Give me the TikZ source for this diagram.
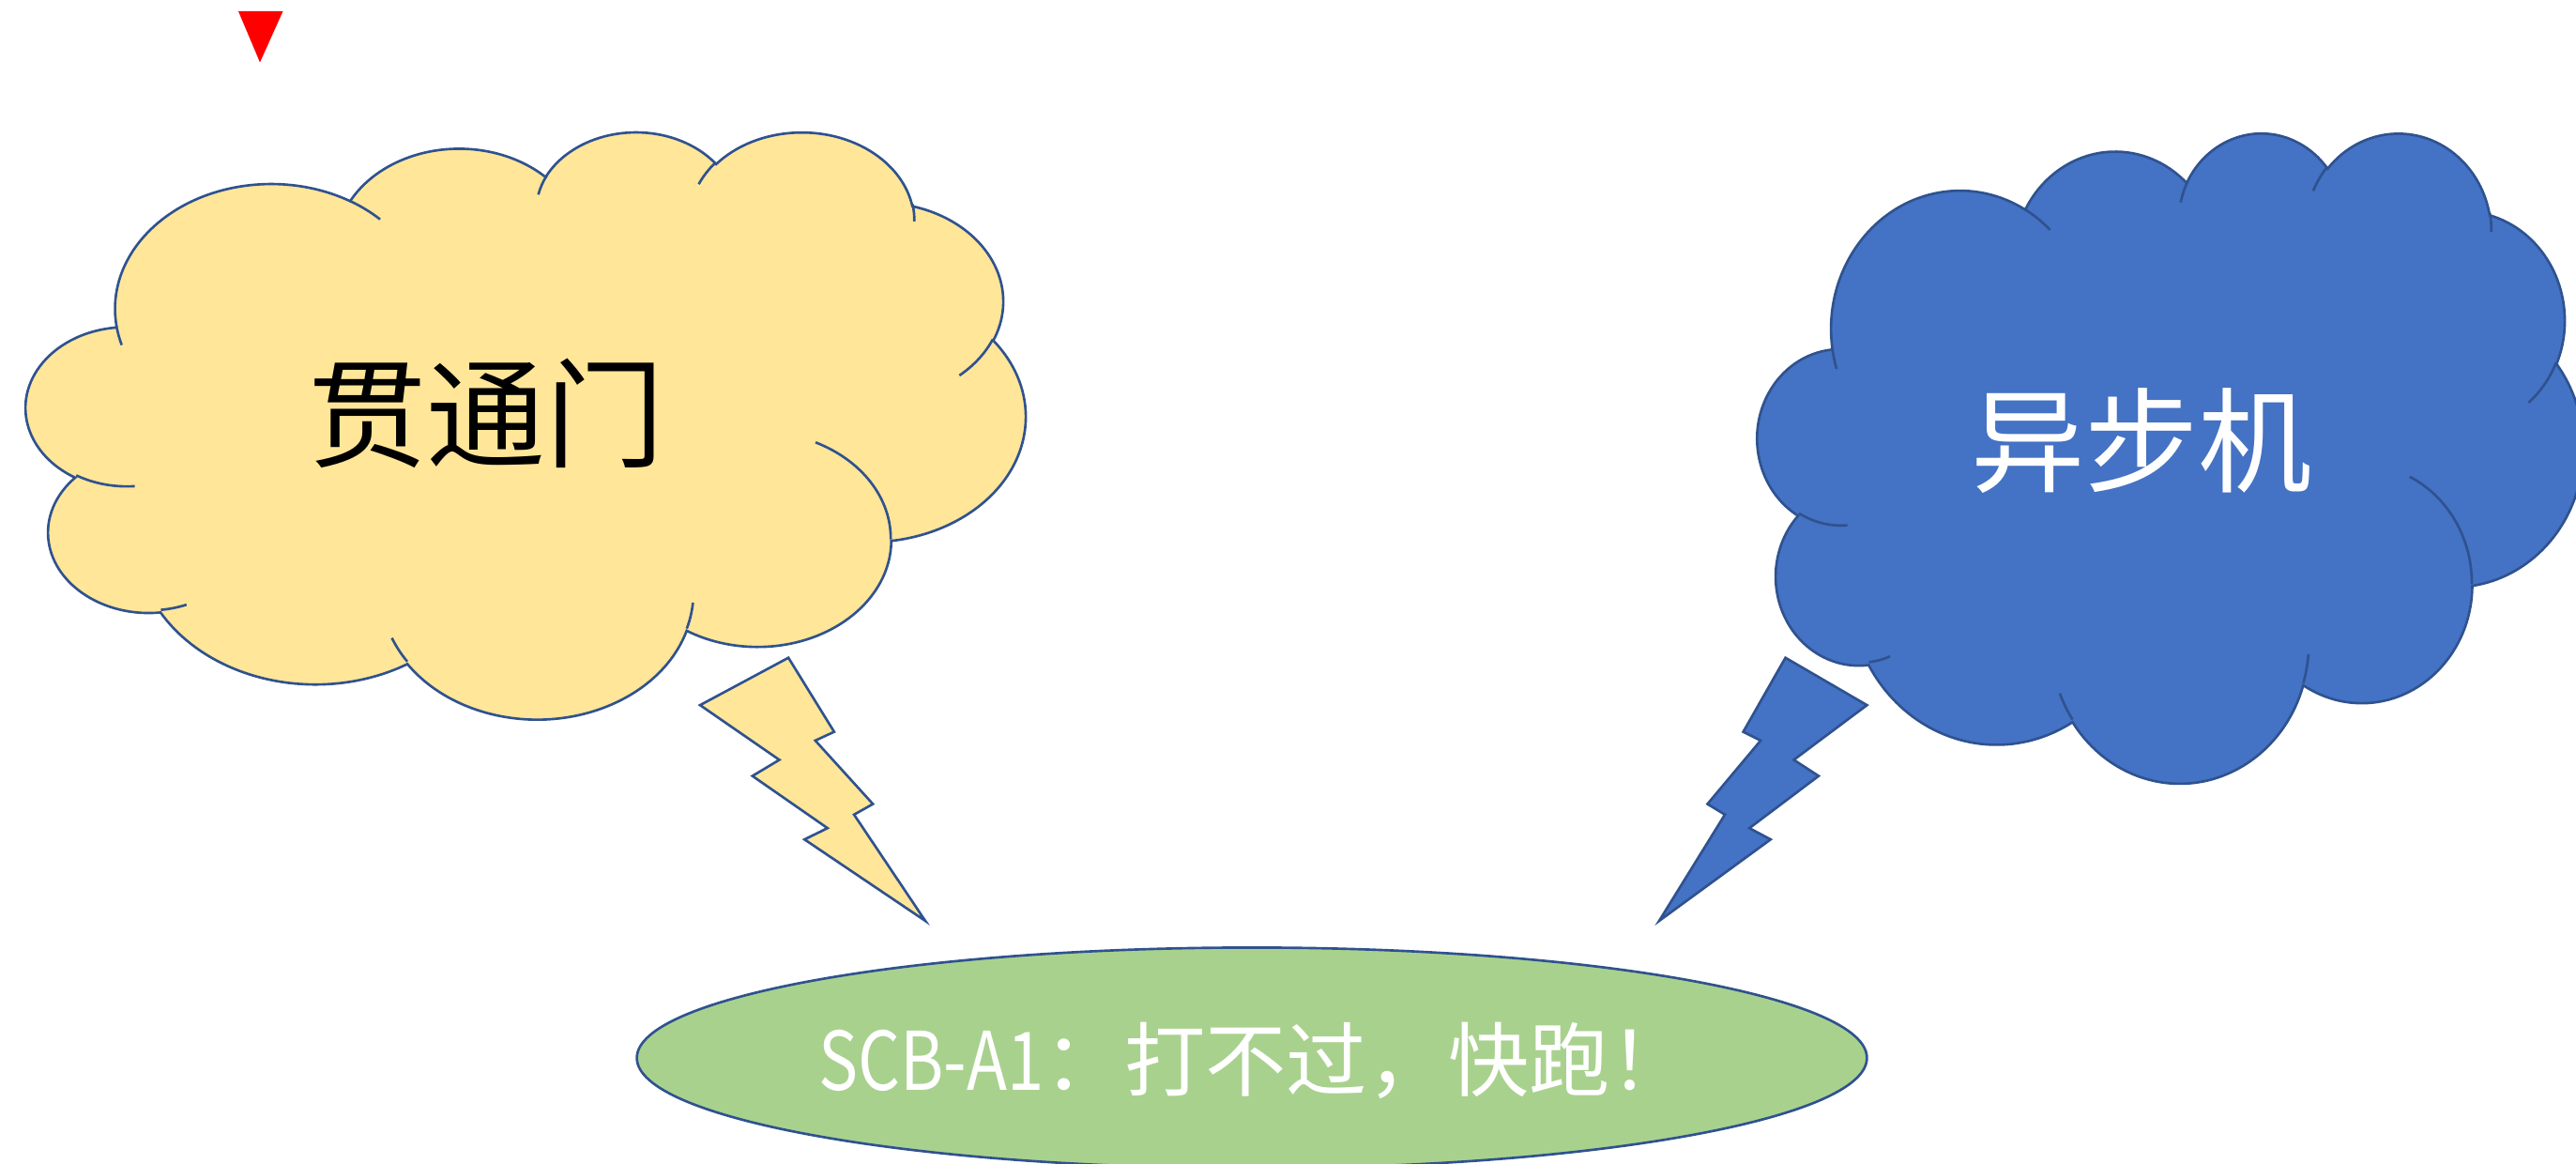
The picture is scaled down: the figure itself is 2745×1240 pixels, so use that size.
\documentclass[tikz,border=0pt]{standalone}
\usepackage{fontspec}
\usepackage{graphicx}
\usetikzlibrary{shapes.geometric}
\newfontfamily\cjk{Noto Sans CJK SC}
\definecolor{cloudyellow}{HTML}{FFE699}
\definecolor{cloudblue}{HTML}{4472C4}
\definecolor{edgeblue}{HTML}{2F528F}
\definecolor{leafgreen}{HTML}{A9D18E}
\definecolor{alarmred}{HTML}{FF0000}
\tikzset{
  outline/.style={draw=edgeblue, line width=0.75pt, line join=miter},
  cloudline/.style={draw=edgeblue, line width=0.75pt},
  yellowfill/.style={fill=cloudyellow},
  bluefill/.style={fill=cloudblue},
  bigtext/.style={font=\cjk\fontsize{36}{40}\selectfont, inner sep=0pt},
  ovaltext/.style={font=\cjk\fontsize{24.5}{30}\selectfont, inner sep=0pt, text=white},
}
% PowerPoint-like cloud: #1 x0, #2 y0, #3 width, #4 height, #5 fill style
\newcommand\cloudshape[5]{%
\begin{scope}[shift={(#1,#2)}, x=1cm, y=1cm, xscale=#3/4320, yscale=-#4/4320]
\path[#5, outline] (3.900,14.370)
  arc[start angle=172.25, delta angle=128.12, x radius=6.753, y radius=9.190]
  arc[start angle=-152.02, delta angle=106.57, x radius=5.333, y radius=7.267]
  arc[start angle=-153.49, delta angle=116.14, x radius=4.365, y radius=5.945]
  arc[start angle=-139.70, delta angle=129.49, x radius=4.857, y radius=6.595]
  arc[start angle=-74.77, delta angle=97.98, x radius=5.333, y radius=7.273]
  arc[start angle=-37.55, delta angle=119.41, x radius=6.775, y radius=9.220]
  arc[start angle=0.46, delta angle=121.52, x radius=5.785, y radius=7.867]
  arc[start angle=16.85, delta angle=129.38, x radius=6.752, y radius=9.215]
  arc[start angle=58.99, delta angle=91.20, x radius=7.720, y radius=10.543]
  arc[start angle=83.31, delta angle=139.79, x radius=4.360, y radius=5.918]
  arc[start angle=120.35, delta angle=143.76, x radius=4.345, y radius=5.945]
  -- cycle;
\path[cloudline]
  (4.693,26.177) arc[start angle=85.55, delta angle=34.80, x radius=4.345, y radius=5.945]
  (6.928,34.899) arc[start angle=68.24, delta angle=15.07, x radius=4.360, y radius=5.918]
  (16.478,39.090) arc[start angle=146.23, delta angle=12.24, x radius=6.752, y radius=9.215]
  (28.827,34.751) arc[start angle=4.74, delta angle=12.11, x radius=6.752, y radius=9.215]
  (34.129,22.954) arc[start angle=-64.03, delta angle=64.49, x radius=5.785, y radius=7.867]
  (41.798,15.354) arc[start angle=23.21, delta angle=26.44, x radius=5.333, y radius=7.273]
  (38.324,5.426) arc[start angle=-10.21, delta angle=11.03, x radius=4.857, y radius=6.595]
  (29.078,3.952) arc[start angle=-156.28, delta angle=16.58, x radius=4.857, y radius=6.595]
  (22.141,4.720) arc[start angle=-167.73, delta angle=14.38, x radius=4.365, y radius=5.945]
  (14.000,5.192) arc[start angle=-59.63, delta angle=13.90, x radius=6.753, y radius=9.190]
  (4.127,15.789) arc[start angle=163.19, delta angle=9.06, x radius=6.753, y radius=9.190];
\end{scope}}
% lightning bolt: #1 x0, #2 y0, #3 width (negative = mirrored), #4 height, #5 fill style
\newcommand\boltshape[5]{%
\begin{scope}[shift={(#1,#2)}, xscale=#3/216, yscale=#4/216]
\path[#5, outline] (84.72,0) -- (128.60,60.80) -- (110.50,67.97) -- (165.77,120.07)
  -- (147.67,128.77) -- (216,216) -- (100.12,149.15) -- (122.22,139.87)
  -- (50.22,97.05) -- (76.02,83.82) -- (0,38.90) -- cycle;
\end{scope}}
\begin{document}
\begin{tikzpicture}[x=0.01cm, y=-0.01cm]
\useasboundingbox (0,0) rectangle (2745,1240);
% red marker
\fill[alarmred] (254,12) -- (301.5,12) -- (277,66.5) -- cycle;
% clouds
\cloudshape{28}{139}{1064}{625}{yellowfill}
\cloudshape{1873}{140}{879}{692}{bluefill}
% lightning bolts
\boltshape{746}{700.7}{240}{280.3}{yellowfill}
\boltshape{1989.4}{700.7}{-221.4}{280.3}{bluefill}
% oval
\node[ellipse, minimum width=13.1cm, minimum height=2.35cm, inner sep=0pt,
      fill=leafgreen, outline] (oval) at (1334,1127) {};
% texts
\node[bigtext, text=black] (gate) at (518,440) {贯通门};
\node[bigtext, text=white, font=\cjk\fontsize{34.5}{40}\selectfont] (async) at (2282,470) {异步机};
\node[ovaltext] (shout) at (1337,1130) {\scalebox{0.82}[1]{SCB-A1}：打不过，快跑！};
\end{tikzpicture}
\end{document}
